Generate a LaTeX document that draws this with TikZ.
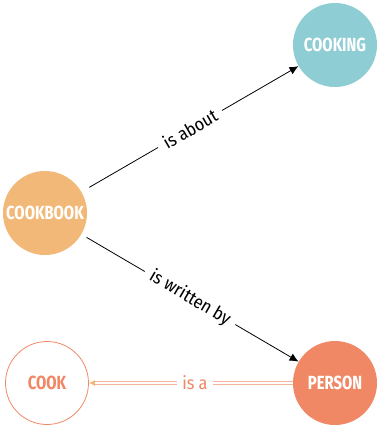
\documentclass[tikz,border=0pt]{standalone}
\usepackage{fontspec}
\setmainfont{Fira Sans Condensed}
\newfontfamily\conceptfont{Fira Sans Condensed}[FakeStretch=0.86]
\usetikzlibrary{arrows.meta}
\definecolor{bookorange}{HTML}{F2B877}
\definecolor{cookteal}{HTML}{8ECDD3}
\definecolor{personred}{HTML}{F08866}

\begin{document}
\begin{tikzpicture}[x=1pt,y=-1pt,
    concept/.style={circle,minimum size=84pt,inner sep=0pt,
      font=\conceptfont\bfseries\fontsize{19}{19}\selectfont,text=white},
    rel/.style={font=\fontsize{18}{18}\selectfont,fill=white,inner sep=7pt}]
  \useasboundingbox (0,0) rectangle (377,429);
  % concepts
  \node[concept,fill=bookorange] (cookbook) at (45,213) {COOKBOOK};
  \node[concept,fill=cookteal] (cooking) at (335,45) {COOKING};
  \node[concept,fill=personred] (person) at (335,383) {PERSON};
  \node[concept,draw=personred,line width=0.8pt,text=personred,minimum size=83pt] (cook) at (47,383) {COOK};
  % relations
  \draw[line width=0.8pt,shorten <=9pt,-{Latex[length=9pt,width=8pt]}] (cookbook) -- node[rel,sloped] {is about} (cooking);
  \draw[line width=0.8pt,shorten <=6pt,-{Latex[length=9pt,width=8pt]}] (cookbook) -- node[rel,sloped] {is written by} (person);
  \draw[personred!65,line width=1pt,double=white,double distance=1.8pt,
    -{Latex[length=6pt,width=6pt,color=bookorange]}] (person) -- node[rel,pos=0.48,text=personred,inner sep=5pt] {is a} (cook);
\end{tikzpicture}
\end{document}
